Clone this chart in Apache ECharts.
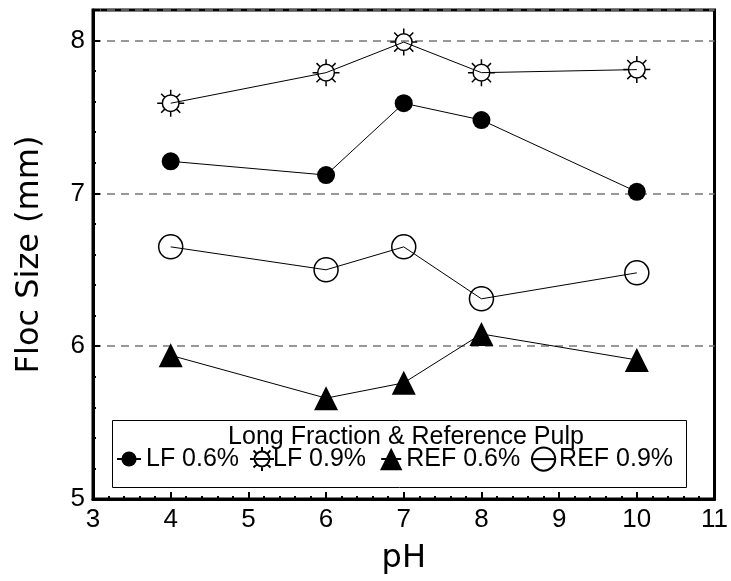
<!DOCTYPE html>
<html>
<head>
<meta charset="utf-8">
<script src="https://cdn.jsdelivr.net/npm/echarts@6/dist/echarts.min.js"></script>
<style>
  html, body { margin: 0; padding: 0; background: #fff; }
  #main { width: 731px; height: 581px; }
</style>
</head>
<body>
<div id="main"></div>
<script>
// pH values and floc sizes (mm)
const phValues = [4, 6, 7, 8, 10];
const lf06 = [7.21, 7.12, 7.59, 7.48, 7.01];
const lf09 = [7.59, 7.79, 7.99, 7.79, 7.81];
const ref06 = [5.94, 5.66, 5.76, 6.08, 5.91];
const ref09 = [6.65, 6.50, 6.65, 6.31, 6.48];
const seriesNames = ['LF 0.6%', 'LF 0.9%', 'REF 0.6%', 'REF 0.9%'];
const legendTitle = 'Long Fraction & Reference Pulp';

const FONT = '"Liberation Sans", Arial, sans-serif';
const NAME_FONT = '"DejaVu Sans", sans-serif';

// circle with eight rays
const sunPath = 'path://M22 14 A8 8 0 1 1 6 14 A8 8 0 1 1 22 14 Z' +
  'M14 1 L14 6 M14 22 L14 27 M1 14 L6 14 M22 14 L27 14' +
  'M4.8 4.8 L8.3 8.3 M19.7 19.7 L23.2 23.2 M23.2 4.8 L19.7 8.3 M4.8 23.2 L8.3 19.7';

function pairs(ys) {
  return phValues.map((x, i) => [x, ys[i]]);
}

function lineSeries(name, ys, symbol, size, filled) {
  return {
    name: name,
    type: 'line',
    data: pairs(ys),
    symbol: symbol,
    symbolSize: size,
    showAllSymbol: true,
    color: '#000',
    lineStyle: { color: '#000', width: 1 },
    itemStyle: filled
      ? { color: '#000', borderColor: '#000', borderWidth: 0 }
      : { color: 'transparent', borderColor: '#000', borderWidth: 1.5 },
    emphasis: { disabled: true },
    z: 3
  };
}

// one legend per entry so each can sit where the original has it
function legendItem(name, left, w, h) {
  const boxH = Math.max(h, 29);
  return {
    data: [name],
    left: left,
    top: 461 - boxH / 2,
    padding: 0,
    itemWidth: w,
    itemHeight: h,
    textStyle: { fontSize: 25, fontFamily: FONT, color: '#000' },
    selectedMode: false,
    z: 6
  };
}

const chart = echarts.init(document.getElementById('main'));
chart.setOption({
  animation: false,
  backgroundColor: '#fff',
  grid: {
    left: 93, right: 13, top: 10, bottom: 82,
    show: true, borderColor: '#000', borderWidth: 3
  },
  xAxis: {
    type: 'value',
    min: 3, max: 11, interval: 1,
    name: 'pH',
    nameLocation: 'middle',
    nameGap: 44,
    nameTextStyle: { fontSize: 32, fontFamily: NAME_FONT, color: '#000' },
    axisLine: { lineStyle: { color: '#000', width: 3 } },
    axisTick: { inside: true, length: 7, lineStyle: { color: '#000', width: 2 } },
    minorTick: { show: true, splitNumber: 5, length: 3, lineStyle: { color: '#000', width: 2 } },
    axisLabel: { fontSize: 26, fontFamily: FONT, color: '#000', margin: 8 },
    splitLine: { show: false }
  },
  yAxis: {
    type: 'value',
    min: 5, max: 8.2, interval: 1,
    name: 'Floc Size (mm)',
    nameLocation: 'middle',
    nameGap: 47,
    nameTextStyle: { fontSize: 32, fontFamily: NAME_FONT, color: '#000' },
    axisLine: { lineStyle: { color: '#000', width: 3 } },
    axisTick: { inside: true, length: 7, lineStyle: { color: '#000', width: 2 } },
    minorTick: { show: true, splitNumber: 5, length: 3, lineStyle: { color: '#000', width: 2 } },
    axisLabel: { fontSize: 26, fontFamily: FONT, color: '#000', margin: 8, showMaxLabel: false },
    splitLine: { show: true, lineStyle: { color: '#777', width: 1.5, type: [8, 6] } }
  },
  legend: [
    legendItem(seriesNames[0], 116, 24, 19),
    legendItem(seriesNames[1], 249, 12, 30),
    legendItem(seriesNames[2], 380, 20, 28),
    legendItem(seriesNames[3], 531, 21, 29)
  ],
  graphic: [
    {
      type: 'rect',
      shape: { x: 112.5, y: 420.5, width: 574, height: 67 },
      style: { fill: '#fff', stroke: '#000', lineWidth: 1 },
      z: 4
    },
    {
      type: 'text',
      x: 406, y: 437,
      style: {
        text: legendTitle,
        fontSize: 25, fontFamily: FONT, fill: '#000',
        textAlign: 'center', textVerticalAlign: 'middle'
      },
      z: 5
    }
  ],
  series: [
    lineSeries(seriesNames[0], lf06, 'circle', 18, true),
    lineSeries(seriesNames[1], lf09, sunPath, 27, false),
    lineSeries(seriesNames[2], ref06, 'triangle', 24, true),
    lineSeries(seriesNames[3], ref09, 'circle', 24, false)
  ]
});
</script>
</body>
</html>
